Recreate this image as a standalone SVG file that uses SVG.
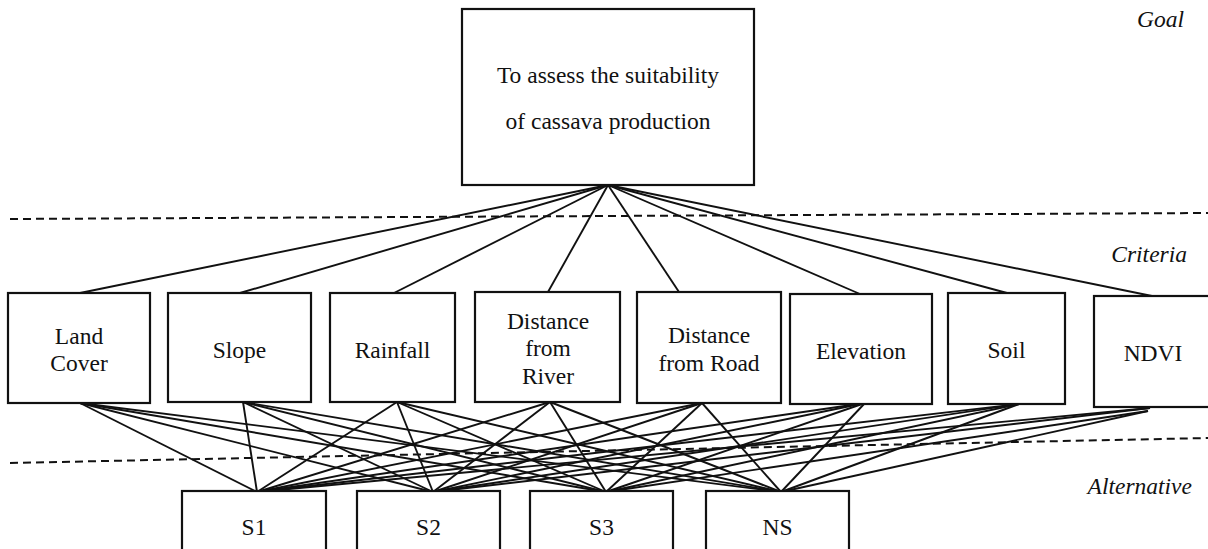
<svg xmlns="http://www.w3.org/2000/svg" width="1208" height="549" viewBox="0 0 1208 549">
  <style>
    .box { fill: #fff; stroke: #111; stroke-width: 2.2; }
    .lbl { font-size: 23.5px; fill: #111; text-anchor: middle; }
    .lvl { font-size: 23.5px; font-style: italic; fill: #111; text-anchor: end; }
    .sep { stroke: #111; stroke-width: 2; stroke-dasharray: 8 5; fill: none; }
    #connectors line { stroke: #111; stroke-width: 1.9; }
  </style>

  <g font-family="'Liberation Serif', 'DejaVu Serif', serif">
  <!-- level separators -->
  <line class="sep" x1="10" y1="219" x2="1208" y2="213"/>
  <line class="sep" x1="10" y1="463" x2="1208" y2="438"/>

  <!-- level labels -->
  <text class="lvl" x="1184" y="27">Goal</text>
  <text class="lvl" x="1187" y="262">Criteria</text>
  <text class="lvl" x="1192" y="494">Alternative</text>

  <g id="connectors">
    <!-- goal to criteria -->
    <line x1="608" y1="185" x2="80" y2="293"/>
    <line x1="608" y1="185" x2="240" y2="293"/>
    <line x1="608" y1="185" x2="394" y2="293"/>
    <line x1="608" y1="185" x2="548" y2="292"/>
    <line x1="608" y1="185" x2="679" y2="292"/>
    <line x1="608" y1="185" x2="860" y2="294"/>
    <line x1="608" y1="185" x2="1007" y2="293"/>
    <line x1="608" y1="185" x2="1152" y2="296"/>
    <!-- Land Cover to alternatives -->
    <line x1="80" y1="403" x2="257" y2="492"/>
    <line x1="80" y1="403" x2="433" y2="492"/>
    <line x1="80" y1="403" x2="606" y2="492"/>
    <line x1="80" y1="403" x2="781" y2="492"/>
    <!-- Slope -->
    <line x1="243" y1="402" x2="257" y2="492"/>
    <line x1="243" y1="402" x2="433" y2="492"/>
    <line x1="243" y1="402" x2="606" y2="492"/>
    <line x1="243" y1="402" x2="781" y2="492"/>
    <!-- Rainfall -->
    <line x1="397" y1="402" x2="257" y2="492"/>
    <line x1="397" y1="402" x2="433" y2="492"/>
    <line x1="397" y1="402" x2="606" y2="492"/>
    <line x1="397" y1="402" x2="781" y2="492"/>
    <!-- Distance from River -->
    <line x1="550" y1="402" x2="257" y2="492"/>
    <line x1="550" y1="402" x2="433" y2="492"/>
    <line x1="550" y1="402" x2="606" y2="492"/>
    <line x1="550" y1="402" x2="781" y2="492"/>
    <!-- Distance from Road -->
    <line x1="702" y1="403" x2="257" y2="492"/>
    <line x1="702" y1="403" x2="433" y2="492"/>
    <line x1="702" y1="403" x2="606" y2="492"/>
    <line x1="702" y1="403" x2="781" y2="492"/>
    <!-- Elevation -->
    <line x1="865" y1="403" x2="257" y2="492"/>
    <line x1="865" y1="403" x2="433" y2="492"/>
    <line x1="865" y1="403" x2="606" y2="492"/>
    <line x1="865" y1="403" x2="781" y2="492"/>
    <!-- Soil -->
    <line x1="1019" y1="404" x2="257" y2="492"/>
    <line x1="1019" y1="404" x2="433" y2="492"/>
    <line x1="1019" y1="404" x2="606" y2="492"/>
    <line x1="1019" y1="404" x2="781" y2="492"/>
    <!-- NDVI -->
    <line x1="1150" y1="408" x2="257" y2="492"/>
    <line x1="1150" y1="408" x2="433" y2="492"/>
    <line x1="1148" y1="411" x2="606" y2="492"/>
    <line x1="1148" y1="411" x2="781" y2="492"/>
  </g>

  <!-- goal -->
  <g id="goal">
    <rect class="box" x="462" y="9" width="292" height="176"/>
    <text class="lbl" x="608" y="83">To assess the suitability</text>
    <text class="lbl" x="608" y="129">of cassava production</text>
  </g>

  <!-- criteria -->
  <g id="land-cover">
    <rect class="box" x="8" y="293" width="142" height="110"/>
    <text class="lbl" x="79" y="344">Land</text>
    <text class="lbl" x="79" y="371">Cover</text>
  </g>
  <g id="slope">
    <rect class="box" x="168" y="293" width="143" height="109"/>
    <text class="lbl" x="239.5" y="358">Slope</text>
  </g>
  <g id="rainfall">
    <rect class="box" x="330" y="293" width="125" height="109"/>
    <text class="lbl" x="392.5" y="358">Rainfall</text>
  </g>
  <g id="distance-river">
    <rect class="box" x="475" y="292" width="145" height="110"/>
    <text class="lbl" x="548" y="329">Distance</text>
    <text class="lbl" x="548" y="356">from</text>
    <text class="lbl" x="548" y="384">River</text>
  </g>
  <g id="distance-road">
    <rect class="box" x="637" y="292" width="144" height="111"/>
    <text class="lbl" x="709" y="343">Distance</text>
    <text class="lbl" x="709" y="371">from Road</text>
  </g>
  <g id="elevation">
    <rect class="box" x="790" y="294" width="142" height="110"/>
    <text class="lbl" x="861" y="359">Elevation</text>
  </g>
  <g id="soil">
    <rect class="box" x="948" y="293" width="117" height="111"/>
    <text class="lbl" x="1006.5" y="358">Soil</text>
  </g>
  <g id="ndvi">
    <rect class="box" x="1094" y="296" width="120" height="111"/>
    <text class="lbl" x="1153" y="361">NDVI</text>
  </g>

  <!-- alternatives -->
  <g id="s1">
    <rect class="box" x="182" y="491" width="144" height="70"/>
    <text class="lbl" x="254" y="535">S1</text>
  </g>
  <g id="s2">
    <rect class="box" x="357" y="491" width="143" height="70"/>
    <text class="lbl" x="428.5" y="535">S2</text>
  </g>
  <g id="s3">
    <rect class="box" x="530" y="491" width="143" height="70"/>
    <text class="lbl" x="601.5" y="535">S3</text>
  </g>
  <g id="ns">
    <rect class="box" x="706" y="491" width="143" height="70"/>
    <text class="lbl" x="777.5" y="535">NS</text>
  </g>
  </g>
</svg>
